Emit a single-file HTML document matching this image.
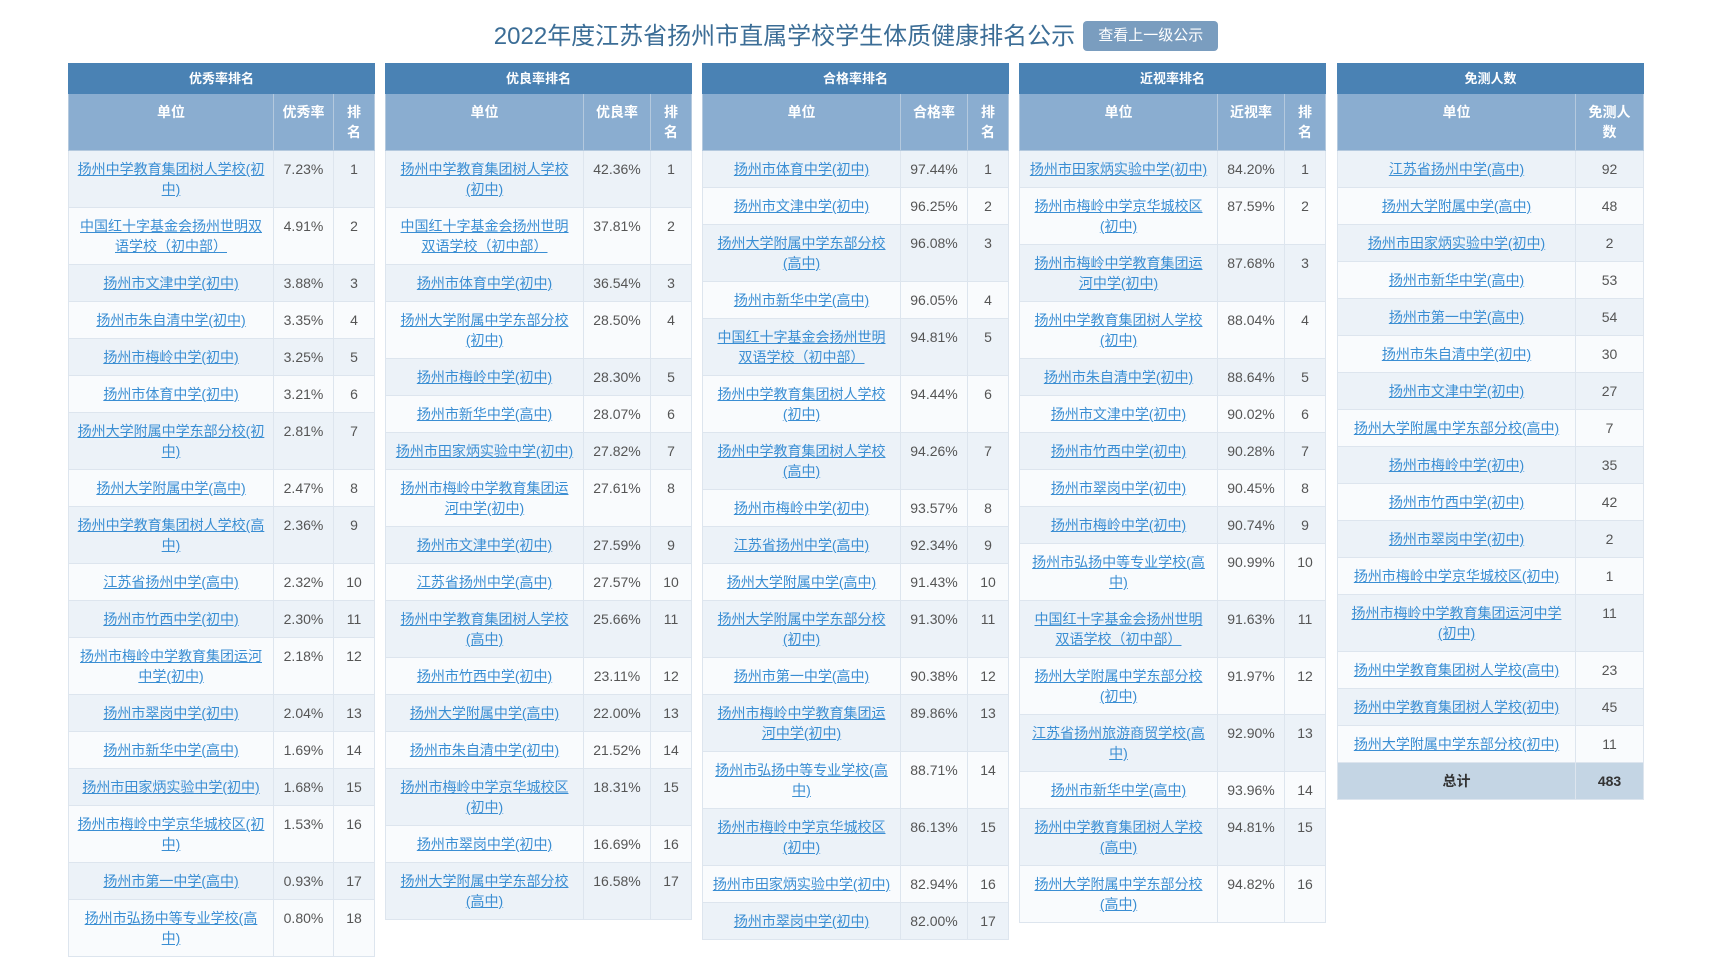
<!DOCTYPE html>
<html><head><meta charset="utf-8"><style>
html,body{margin:0;padding:0;background:#fff;width:1712px;height:906px;overflow:hidden;font-family:"Liberation Sans","Noto Sans CJK SC",sans-serif;}
h1{position:absolute;left:0;top:18px;width:1712px;margin:0;text-align:center;font-weight:normal;font-size:24px;color:#3b6d96;line-height:38px;}
h1 span.b{display:inline-block;vertical-align:middle;margin-left:8px;background:#7a9dbf;color:#fff;font-size:15px;line-height:30px;padding:0 15px;border-radius:4px;position:relative;top:-2px}
.wrap{position:absolute;top:63px;left:68px;}
table{position:absolute;top:0;width:306px;border-collapse:collapse;table-layout:fixed;font-size:14px;}
th,td{border:1px solid #dde5ee;text-align:center;vertical-align:top;line-height:20px;padding:8px 2px;white-space:nowrap;}
th.t{background:#4a82b4;color:#fff;font-size:13px;padding:5px 2px;line-height:19px;border-color:#4a82b4}
th.s{background:#8aadd0;color:#fff;height:40px;border-color:#b4c9de}
tr:nth-child(odd) td{background:#ecf2f8}
tr:nth-child(even) td{background:#f9fbfd}
td{color:#555}
td a{color:#3a8ed3;text-decoration:underline}
tr.tot td{background:#c4d5e4!important;font-weight:bold;color:#333}
</style></head><body>
<h1>2022年度江苏省扬州市直属学校学生体质健康排名公示<span class="b">查看上一级公示</span></h1>
<div class="wrap">
<table style="left:0"><colgroup><col style="width:205px"><col style="width:60px"><col style="width:41px"></colgroup>
<thead><tr><th class="t" colspan="3">优秀率排名</th></tr><tr><th class="s">单位</th><th class="s">优秀率</th><th class="s">排<br>名</th></tr></thead><tbody>
<tr><td><a>扬州中学教育集团树人学校(初<br>中)</a></td><td>7.23%</td><td>1</td></tr>
<tr><td><a>中国红十字基金会扬州世明双<br>语学校（初中部）</a></td><td>4.91%</td><td>2</td></tr>
<tr><td><a>扬州市文津中学(初中)</a></td><td>3.88%</td><td>3</td></tr>
<tr><td><a>扬州市朱自清中学(初中)</a></td><td>3.35%</td><td>4</td></tr>
<tr><td><a>扬州市梅岭中学(初中)</a></td><td>3.25%</td><td>5</td></tr>
<tr><td><a>扬州市体育中学(初中)</a></td><td>3.21%</td><td>6</td></tr>
<tr><td><a>扬州大学附属中学东部分校(初<br>中)</a></td><td>2.81%</td><td>7</td></tr>
<tr><td><a>扬州大学附属中学(高中)</a></td><td>2.47%</td><td>8</td></tr>
<tr><td><a>扬州中学教育集团树人学校(高<br>中)</a></td><td>2.36%</td><td>9</td></tr>
<tr><td><a>江苏省扬州中学(高中)</a></td><td>2.32%</td><td>10</td></tr>
<tr><td><a>扬州市竹西中学(初中)</a></td><td>2.30%</td><td>11</td></tr>
<tr><td><a>扬州市梅岭中学教育集团运河<br>中学(初中)</a></td><td>2.18%</td><td>12</td></tr>
<tr><td><a>扬州市翠岗中学(初中)</a></td><td>2.04%</td><td>13</td></tr>
<tr><td><a>扬州市新华中学(高中)</a></td><td>1.69%</td><td>14</td></tr>
<tr><td><a>扬州市田家炳实验中学(初中)</a></td><td>1.68%</td><td>15</td></tr>
<tr><td><a>扬州市梅岭中学京华城校区(初<br>中)</a></td><td>1.53%</td><td>16</td></tr>
<tr><td><a>扬州市第一中学(高中)</a></td><td>0.93%</td><td>17</td></tr>
<tr><td><a>扬州市弘扬中等专业学校(高<br>中)</a></td><td>0.80%</td><td>18</td></tr>
</tbody></table>

<table style="left:317px"><colgroup><col style="width:198px"><col style="width:67px"><col style="width:41px"></colgroup>
<thead><tr><th class="t" colspan="3">优良率排名</th></tr><tr><th class="s">单位</th><th class="s">优良率</th><th class="s">排<br>名</th></tr></thead><tbody>
<tr><td><a>扬州中学教育集团树人学校<br>(初中)</a></td><td>42.36%</td><td>1</td></tr>
<tr><td><a>中国红十字基金会扬州世明<br>双语学校（初中部）</a></td><td>37.81%</td><td>2</td></tr>
<tr><td><a>扬州市体育中学(初中)</a></td><td>36.54%</td><td>3</td></tr>
<tr><td><a>扬州大学附属中学东部分校<br>(初中)</a></td><td>28.50%</td><td>4</td></tr>
<tr><td><a>扬州市梅岭中学(初中)</a></td><td>28.30%</td><td>5</td></tr>
<tr><td><a>扬州市新华中学(高中)</a></td><td>28.07%</td><td>6</td></tr>
<tr><td><a>扬州市田家炳实验中学(初中)</a></td><td>27.82%</td><td>7</td></tr>
<tr><td><a>扬州市梅岭中学教育集团运<br>河中学(初中)</a></td><td>27.61%</td><td>8</td></tr>
<tr><td><a>扬州市文津中学(初中)</a></td><td>27.59%</td><td>9</td></tr>
<tr><td><a>江苏省扬州中学(高中)</a></td><td>27.57%</td><td>10</td></tr>
<tr><td><a>扬州中学教育集团树人学校<br>(高中)</a></td><td>25.66%</td><td>11</td></tr>
<tr><td><a>扬州市竹西中学(初中)</a></td><td>23.11%</td><td>12</td></tr>
<tr><td><a>扬州大学附属中学(高中)</a></td><td>22.00%</td><td>13</td></tr>
<tr><td><a>扬州市朱自清中学(初中)</a></td><td>21.52%</td><td>14</td></tr>
<tr><td><a>扬州市梅岭中学京华城校区<br>(初中)</a></td><td>18.31%</td><td>15</td></tr>
<tr><td><a>扬州市翠岗中学(初中)</a></td><td>16.69%</td><td>16</td></tr>
<tr><td><a>扬州大学附属中学东部分校<br>(高中)</a></td><td>16.58%</td><td>17</td></tr>
</tbody></table>

<table style="left:634px"><colgroup><col style="width:198px"><col style="width:67px"><col style="width:41px"></colgroup>
<thead><tr><th class="t" colspan="3">合格率排名</th></tr><tr><th class="s">单位</th><th class="s">合格率</th><th class="s">排<br>名</th></tr></thead><tbody>
<tr><td><a>扬州市体育中学(初中)</a></td><td>97.44%</td><td>1</td></tr>
<tr><td><a>扬州市文津中学(初中)</a></td><td>96.25%</td><td>2</td></tr>
<tr><td><a>扬州大学附属中学东部分校<br>(高中)</a></td><td>96.08%</td><td>3</td></tr>
<tr><td><a>扬州市新华中学(高中)</a></td><td>96.05%</td><td>4</td></tr>
<tr><td><a>中国红十字基金会扬州世明<br>双语学校（初中部）</a></td><td>94.81%</td><td>5</td></tr>
<tr><td><a>扬州中学教育集团树人学校<br>(初中)</a></td><td>94.44%</td><td>6</td></tr>
<tr><td><a>扬州中学教育集团树人学校<br>(高中)</a></td><td>94.26%</td><td>7</td></tr>
<tr><td><a>扬州市梅岭中学(初中)</a></td><td>93.57%</td><td>8</td></tr>
<tr><td><a>江苏省扬州中学(高中)</a></td><td>92.34%</td><td>9</td></tr>
<tr><td><a>扬州大学附属中学(高中)</a></td><td>91.43%</td><td>10</td></tr>
<tr><td><a>扬州大学附属中学东部分校<br>(初中)</a></td><td>91.30%</td><td>11</td></tr>
<tr><td><a>扬州市第一中学(高中)</a></td><td>90.38%</td><td>12</td></tr>
<tr><td><a>扬州市梅岭中学教育集团运<br>河中学(初中)</a></td><td>89.86%</td><td>13</td></tr>
<tr><td><a>扬州市弘扬中等专业学校(高<br>中)</a></td><td>88.71%</td><td>14</td></tr>
<tr><td><a>扬州市梅岭中学京华城校区<br>(初中)</a></td><td>86.13%</td><td>15</td></tr>
<tr><td><a>扬州市田家炳实验中学(初中)</a></td><td>82.94%</td><td>16</td></tr>
<tr><td><a>扬州市翠岗中学(初中)</a></td><td>82.00%</td><td>17</td></tr>
</tbody></table>

<table style="left:951px"><colgroup><col style="width:198px"><col style="width:67px"><col style="width:41px"></colgroup>
<thead><tr><th class="t" colspan="3">近视率排名</th></tr><tr><th class="s">单位</th><th class="s">近视率</th><th class="s">排<br>名</th></tr></thead><tbody>
<tr><td><a>扬州市田家炳实验中学(初中)</a></td><td>84.20%</td><td>1</td></tr>
<tr><td><a>扬州市梅岭中学京华城校区<br>(初中)</a></td><td>87.59%</td><td>2</td></tr>
<tr><td><a>扬州市梅岭中学教育集团运<br>河中学(初中)</a></td><td>87.68%</td><td>3</td></tr>
<tr><td><a>扬州中学教育集团树人学校<br>(初中)</a></td><td>88.04%</td><td>4</td></tr>
<tr><td><a>扬州市朱自清中学(初中)</a></td><td>88.64%</td><td>5</td></tr>
<tr><td><a>扬州市文津中学(初中)</a></td><td>90.02%</td><td>6</td></tr>
<tr><td><a>扬州市竹西中学(初中)</a></td><td>90.28%</td><td>7</td></tr>
<tr><td><a>扬州市翠岗中学(初中)</a></td><td>90.45%</td><td>8</td></tr>
<tr><td><a>扬州市梅岭中学(初中)</a></td><td>90.74%</td><td>9</td></tr>
<tr><td><a>扬州市弘扬中等专业学校(高<br>中)</a></td><td>90.99%</td><td>10</td></tr>
<tr><td><a>中国红十字基金会扬州世明<br>双语学校（初中部）</a></td><td>91.63%</td><td>11</td></tr>
<tr><td><a>扬州大学附属中学东部分校<br>(初中)</a></td><td>91.97%</td><td>12</td></tr>
<tr><td><a>江苏省扬州旅游商贸学校(高<br>中)</a></td><td>92.90%</td><td>13</td></tr>
<tr><td><a>扬州市新华中学(高中)</a></td><td>93.96%</td><td>14</td></tr>
<tr><td><a>扬州中学教育集团树人学校<br>(高中)</a></td><td>94.81%</td><td>15</td></tr>
<tr><td><a>扬州大学附属中学东部分校<br>(高中)</a></td><td>94.82%</td><td>16</td></tr>
</tbody></table>

<table style="left:1269px"><colgroup><col style="width:238px"><col style="width:68px"></colgroup>
<thead><tr><th class="t" colspan="2">免测人数</th></tr><tr><th class="s">单位</th><th class="s">免测人<br>数</th></tr></thead><tbody>
<tr><td><a>江苏省扬州中学(高中)</a></td><td>92</td></tr>
<tr><td><a>扬州大学附属中学(高中)</a></td><td>48</td></tr>
<tr><td><a>扬州市田家炳实验中学(初中)</a></td><td>2</td></tr>
<tr><td><a>扬州市新华中学(高中)</a></td><td>53</td></tr>
<tr><td><a>扬州市第一中学(高中)</a></td><td>54</td></tr>
<tr><td><a>扬州市朱自清中学(初中)</a></td><td>30</td></tr>
<tr><td><a>扬州市文津中学(初中)</a></td><td>27</td></tr>
<tr><td><a>扬州大学附属中学东部分校(高中)</a></td><td>7</td></tr>
<tr><td><a>扬州市梅岭中学(初中)</a></td><td>35</td></tr>
<tr><td><a>扬州市竹西中学(初中)</a></td><td>42</td></tr>
<tr><td><a>扬州市翠岗中学(初中)</a></td><td>2</td></tr>
<tr><td><a>扬州市梅岭中学京华城校区(初中)</a></td><td>1</td></tr>
<tr><td><a>扬州市梅岭中学教育集团运河中学<br>(初中)</a></td><td>11</td></tr>
<tr><td><a>扬州中学教育集团树人学校(高中)</a></td><td>23</td></tr>
<tr><td><a>扬州中学教育集团树人学校(初中)</a></td><td>45</td></tr>
<tr><td><a>扬州大学附属中学东部分校(初中)</a></td><td>11</td></tr>
<tr class="tot"><td>总计</td><td>483</td></tr>
</tbody></table>
</div>
</body></html>
